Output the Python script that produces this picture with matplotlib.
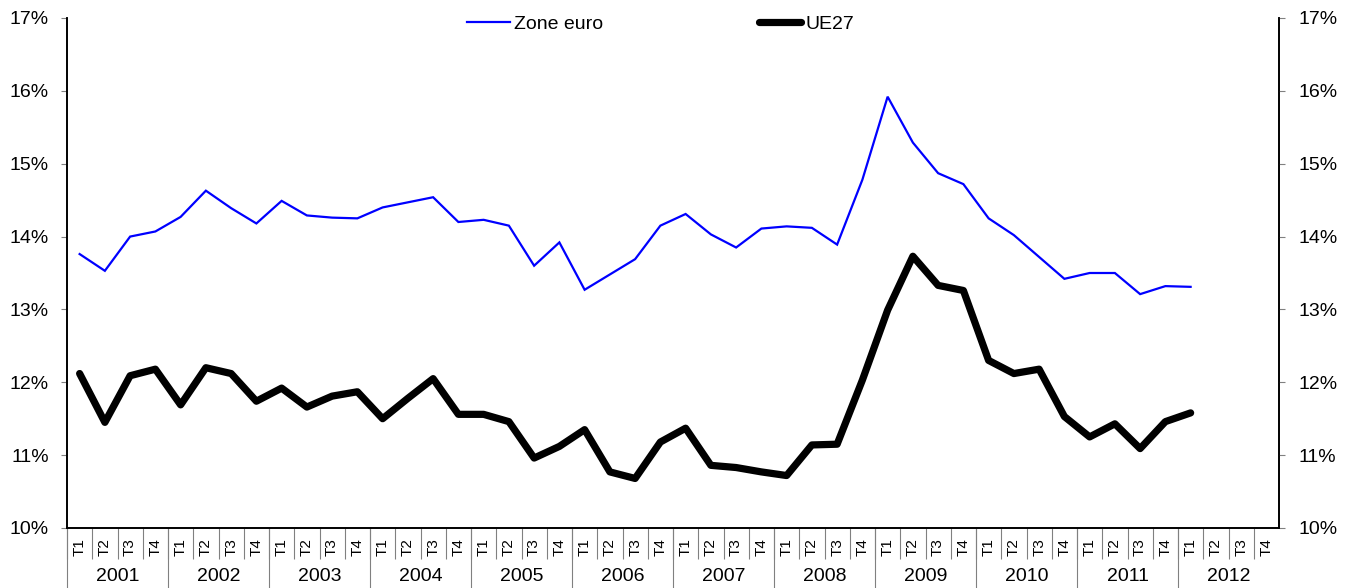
import numpy as np
import matplotlib
matplotlib.use("Agg")
import matplotlib.pyplot as plt
from matplotlib.ticker import FuncFormatter

plt.rcParams['font.family'] = ['Liberation Sans', 'DejaVu Sans']

years = [str(y) for y in range(2001, 2013)]
quarters = ['T1', 'T2', 'T3', 'T4']

# 2001 T1 -> 2012 T1
zone_euro = [13.76, 13.53, 14.00, 14.07, 14.27, 14.63, 14.39, 14.18,
             14.49, 14.29, 14.26, 14.25, 14.40, 14.47, 14.54, 14.20,
             14.23, 14.15, 13.60, 13.92, 13.27, 13.48, 13.69, 14.15,
             14.31, 14.03, 13.85, 14.11, 14.14, 14.12, 13.89, 14.78,
             15.92, 15.29, 14.87, 14.72, 14.25, 14.02, 13.72, 13.42,
             13.50, 13.50, 13.21, 13.32, 13.31]
ue27 = [12.12, 11.45, 12.09, 12.18, 11.69, 12.20, 12.12, 11.74,
        11.92, 11.66, 11.81, 11.87, 11.50, 11.78, 12.05, 11.56,
        11.56, 11.46, 10.96, 11.12, 11.35, 10.77, 10.68, 11.18,
        11.37, 10.86, 10.83, 10.77, 10.72, 11.14, 11.15, 12.03,
        12.99, 13.73, 13.33, 13.26, 12.30, 12.12, 12.18, 11.53,
        11.25, 11.43, 11.09, 11.46, 11.58]

n_cat = len(years) * len(quarters)
x_all = np.arange(n_cat)
x_data = np.arange(len(zone_euro))

fig = plt.figure(figsize=(13.54, 5.88), dpi=100)
ax = fig.add_axes([67 / 1354, 1 - 528 / 588, (1279 - 67) / 1354, (528 - 18) / 588])

ax.plot(x_data, zone_euro, color='#0000FF', lw=1.6, label='Zone euro',
        solid_joinstyle='miter')
ax.plot(x_data, ue27, color='black', lw=5.2, label='UE27',
        solid_joinstyle='round', solid_capstyle='round')

ax.set_xlim(-0.5, n_cat - 0.5)
ax.set_ylim(10, 17)
pct = FuncFormatter(lambda v, _: f'{v:.0f}%')
ax.set_yticks(np.arange(10, 18))
ax.yaxis.set_major_formatter(pct)
ax.tick_params(axis='y', length=4, width=0.8, color='gray', pad=9, labelsize=14)

ax2 = ax.twinx()
ax2.set_ylim(10, 17)
ax2.set_yticks(np.arange(10, 18))
ax2.yaxis.set_major_formatter(pct)
ax2.tick_params(axis='y', length=4, width=0.8, color='gray', pad=10, labelsize=14)

for a in (ax, ax2):
    a.spines['top'].set_visible(False)
    a.spines['left'].set_linewidth(1.2)
    a.spines['right'].set_linewidth(1.2)
    a.spines['bottom'].set_linewidth(1.2)

# quarter labels and separators
ax.set_xticks(x_all)
ax.set_xticklabels(quarters * len(years), rotation=90, fontsize=11)
ax.tick_params(axis='x', which='major', length=0, pad=7)
ax.set_xticks(x_all - 0.5, minor=True)
ax.tick_params(axis='x', which='minor', length=22, width=0.8, color='gray')

# year labels and separators
sec = ax.secondary_xaxis('bottom')
sec.spines['bottom'].set_visible(False)
sec.set_xticks(np.arange(len(years)) * 4 + 1.5)
sec.set_xticklabels(years, fontsize=14)
sec.tick_params(axis='x', which='major', length=0, pad=29)
sec.set_xticks(np.arange(len(years)) * 4 - 0.5, minor=True)
sec.tick_params(axis='x', which='minor', length=44, width=0.8, color='gray')

ax.legend(loc='center', bbox_to_anchor=(0.488, 0.959), bbox_transform=fig.transFigure,
          ncol=2, frameon=False, fontsize=14, handlelength=2.2, handletextpad=0.2,
          columnspacing=8.0)

fig.savefig('out.png', dpi=100)
